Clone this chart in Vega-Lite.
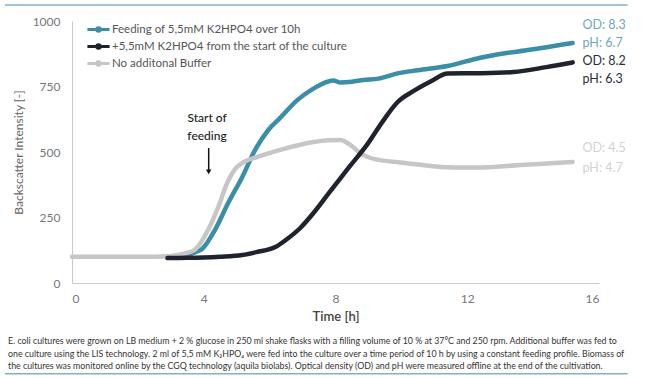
{
  "$schema": "https://vega.github.io/schema/vega-lite/v6.json",
  "width": 527,
  "height": 262,
  "autosize": {"type": "none"},
  "padding": {"left": 72, "top": 21, "right": 51, "bottom": 96},
  "background": "white",
  "config": {
    "view": {"stroke": null},
    "font": "Lato",
    "axis": {"labelFont": "Lato", "titleFont": "Lato"},
    "legend": {"labelFont": "Lato"}
  },
  "title": {
    "text": [
      "E. coli  cultures were grown on LB medium + 2 % glucose in 250 ml shake flasks with a filling volume of 10 % at 37°C and 250 rpm. Additional buffer was fed to",
      "one culture using the LIS technology. 2 ml of 5,5 mM K₂HPO₄ were fed into the culture over a time period of 10 h by using a constant feeding profile. Biomass of",
      "the cultures was monitored online by the CGQ technology (aquila biolabs). Optical density (OD) and pH were measured offline at the end of the cultivation."
    ],
    "orient": "bottom",
    "anchor": "start",
    "frame": "group",
    "dx": -64,
    "offset": -37,
    "fontSize": 8.8,
    "fontWeight": "normal",
    "font": "Lato",
    "color": "#333333",
    "lineHeight": 12.5
  },
  "resolve": {"scale": {"color": "independent"}},
  "datasets": {
    "curves": [
      {"series": "Feeding of 5,5mM K2HPO4 over 10h", "t": 3.0, "v": 100},
      {"series": "Feeding of 5,5mM K2HPO4 over 10h", "t": 3.5, "v": 108},
      {"series": "Feeding of 5,5mM K2HPO4 over 10h", "t": 3.75, "v": 118},
      {"series": "Feeding of 5,5mM K2HPO4 over 10h", "t": 3.95, "v": 130},
      {"series": "Feeding of 5,5mM K2HPO4 over 10h", "t": 4.35, "v": 205},
      {"series": "Feeding of 5,5mM K2HPO4 over 10h", "t": 4.74, "v": 305},
      {"series": "Feeding of 5,5mM K2HPO4 over 10h", "t": 5.17, "v": 405},
      {"series": "Feeding of 5,5mM K2HPO4 over 10h", "t": 5.56, "v": 508},
      {"series": "Feeding of 5,5mM K2HPO4 over 10h", "t": 5.96, "v": 584},
      {"series": "Feeding of 5,5mM K2HPO4 over 10h", "t": 6.32, "v": 630},
      {"series": "Feeding of 5,5mM K2HPO4 over 10h", "t": 6.84, "v": 698},
      {"series": "Feeding of 5,5mM K2HPO4 over 10h", "t": 7.33, "v": 742},
      {"series": "Feeding of 5,5mM K2HPO4 over 10h", "t": 7.93, "v": 773},
      {"series": "Feeding of 5,5mM K2HPO4 over 10h", "t": 8.15, "v": 765},
      {"series": "Feeding of 5,5mM K2HPO4 over 10h", "t": 8.5, "v": 768},
      {"series": "Feeding of 5,5mM K2HPO4 over 10h", "t": 8.85, "v": 775},
      {"series": "Feeding of 5,5mM K2HPO4 over 10h", "t": 9.3, "v": 780},
      {"series": "Feeding of 5,5mM K2HPO4 over 10h", "t": 9.88, "v": 800},
      {"series": "Feeding of 5,5mM K2HPO4 over 10h", "t": 10.5, "v": 812},
      {"series": "Feeding of 5,5mM K2HPO4 over 10h", "t": 11.4, "v": 828},
      {"series": "Feeding of 5,5mM K2HPO4 over 10h", "t": 12.4, "v": 860},
      {"series": "Feeding of 5,5mM K2HPO4 over 10h", "t": 13.1, "v": 876},
      {"series": "Feeding of 5,5mM K2HPO4 over 10h", "t": 13.9, "v": 890},
      {"series": "Feeding of 5,5mM K2HPO4 over 10h", "t": 14.5, "v": 902},
      {"series": "Feeding of 5,5mM K2HPO4 over 10h", "t": 15.2, "v": 916},
      {"series": "No additonal Buffer", "t": 0, "v": 100},
      {"series": "No additonal Buffer", "t": 1, "v": 100},
      {"series": "No additonal Buffer", "t": 2, "v": 100},
      {"series": "No additonal Buffer", "t": 2.5, "v": 100},
      {"series": "No additonal Buffer", "t": 3.0, "v": 103},
      {"series": "No additonal Buffer", "t": 3.4, "v": 112},
      {"series": "No additonal Buffer", "t": 3.74, "v": 128},
      {"series": "No additonal Buffer", "t": 4.13, "v": 202},
      {"series": "No additonal Buffer", "t": 4.44, "v": 290},
      {"series": "No additonal Buffer", "t": 4.74, "v": 390},
      {"series": "No additonal Buffer", "t": 4.95, "v": 435},
      {"series": "No additonal Buffer", "t": 5.17, "v": 458},
      {"series": "No additonal Buffer", "t": 5.65, "v": 482},
      {"series": "No additonal Buffer", "t": 6.38, "v": 510},
      {"series": "No additonal Buffer", "t": 7.33, "v": 538},
      {"series": "No additonal Buffer", "t": 7.8, "v": 545},
      {"series": "No additonal Buffer", "t": 8.15, "v": 546},
      {"series": "No additonal Buffer", "t": 8.45, "v": 527},
      {"series": "No additonal Buffer", "t": 8.75, "v": 496},
      {"series": "No additonal Buffer", "t": 9.0, "v": 480},
      {"series": "No additonal Buffer", "t": 9.36, "v": 469},
      {"series": "No additonal Buffer", "t": 9.97, "v": 460},
      {"series": "No additonal Buffer", "t": 10.5, "v": 452},
      {"series": "No additonal Buffer", "t": 11.58, "v": 441},
      {"series": "No additonal Buffer", "t": 12.5, "v": 441},
      {"series": "No additonal Buffer", "t": 13.6, "v": 450},
      {"series": "No additonal Buffer", "t": 14.4, "v": 456},
      {"series": "No additonal Buffer", "t": 15.2, "v": 462},
      {"series": "+5,5mM K2HPO4 from the start of the culture", "t": 2.9, "v": 95},
      {"series": "+5,5mM K2HPO4 from the start of the culture", "t": 3.5, "v": 96},
      {"series": "+5,5mM K2HPO4 from the start of the culture", "t": 4.0, "v": 97},
      {"series": "+5,5mM K2HPO4 from the start of the culture", "t": 4.5, "v": 100},
      {"series": "+5,5mM K2HPO4 from the start of the culture", "t": 5.17, "v": 107},
      {"series": "+5,5mM K2HPO4 from the start of the culture", "t": 5.6, "v": 118},
      {"series": "+5,5mM K2HPO4 from the start of the culture", "t": 6.17, "v": 137},
      {"series": "+5,5mM K2HPO4 from the start of the culture", "t": 6.5, "v": 165},
      {"series": "+5,5mM K2HPO4 from the start of the culture", "t": 6.93, "v": 210},
      {"series": "+5,5mM K2HPO4 from the start of the culture", "t": 7.35, "v": 270},
      {"series": "+5,5mM K2HPO4 from the start of the culture", "t": 7.75, "v": 335},
      {"series": "+5,5mM K2HPO4 from the start of the culture", "t": 8.1, "v": 392},
      {"series": "+5,5mM K2HPO4 from the start of the culture", "t": 8.4, "v": 440},
      {"series": "+5,5mM K2HPO4 from the start of the culture", "t": 8.97, "v": 530},
      {"series": "+5,5mM K2HPO4 from the start of the culture", "t": 9.45, "v": 620},
      {"series": "+5,5mM K2HPO4 from the start of the culture", "t": 9.88, "v": 690},
      {"series": "+5,5mM K2HPO4 from the start of the culture", "t": 10.4, "v": 735},
      {"series": "+5,5mM K2HPO4 from the start of the culture", "t": 10.9, "v": 770},
      {"series": "+5,5mM K2HPO4 from the start of the culture", "t": 11.4, "v": 800},
      {"series": "+5,5mM K2HPO4 from the start of the culture", "t": 12.4, "v": 801},
      {"series": "+5,5mM K2HPO4 from the start of the culture", "t": 13.4, "v": 805},
      {"series": "+5,5mM K2HPO4 from the start of the culture", "t": 14.4, "v": 824},
      {"series": "+5,5mM K2HPO4 from the start of the culture", "t": 15.2, "v": 842}
    ],
    "endLabels": [
      {"label": "OD: 8.3", "t": 15.5, "v": 985, "grp": "teal"},
      {"label": "pH: 6.7", "t": 15.5, "v": 916, "grp": "teal"},
      {"label": "OD: 8.2", "t": 15.5, "v": 847, "grp": "black"},
      {"label": "pH: 6.3", "t": 15.5, "v": 779, "grp": "black"},
      {"label": "OD: 4.5", "t": 15.5, "v": 515, "grp": "gray"},
      {"label": "pH: 4.7", "t": 15.5, "v": 439, "grp": "gray"}
    ],
    "annot": [
      {"label": "Start of", "t": 4.1, "v": 630},
      {"label": "feeding", "t": 4.1, "v": 560}
    ]
  },
  "layer": [
    {
      "data": {"values": [{}]},
      "mark": {"type": "rule", "color": "#7fb3c4", "strokeWidth": 1.5, "clip": false},
      "encoding": {
        "x": {"datum": -2.04, "type": "quantitative"},
        "x2": {"datum": 16.87},
        "y": {"datum": 1061, "type": "quantitative"}
      }
    },
    {
      "data": {"values": [{}]},
      "mark": {"type": "rule", "color": "#7fb3c4", "strokeWidth": 1.5, "clip": false},
      "encoding": {
        "x": {"datum": -2.04, "type": "quantitative"},
        "x2": {"datum": 16.87},
        "y": {"datum": -346, "type": "quantitative"}
      }
    },
    {
      "data": {"name": "curves"},
      "mark": {"type": "line", "interpolate": "monotone", "strokeWidth": 4.5, "strokeCap": "round", "strokeJoin": "round"},
      "encoding": {
        "x": {
          "field": "t", "type": "quantitative",
          "scale": {"domain": [0, 16], "nice": false, "zero": false},
          "axis": {
            "values": [0, 4, 8, 12, 16], "grid": false, "ticks": false,
            "domainColor": "#c8c8c8", "labelColor": "#777777", "labelFontSize": 12,
            "labelPadding": 10, "title": "Time [h]", "titleFontSize": 13,
            "titleFontWeight": 600, "titleColor": "#444444", "titlePadding": 6
          }
        },
        "y": {
          "field": "v", "type": "quantitative",
          "scale": {"domain": [0, 1000], "nice": false},
          "axis": {
            "values": [0, 250, 500, 750, 1000], "format": "d", "grid": false, "ticks": false,
            "domainColor": "#c8c8c8", "labelColor": "#777777", "labelFontSize": 12,
            "labelPadding": 12, "title": "Backscatter Intensity [-]", "titleFontSize": 12,
            "titleFontWeight": "normal", "titleColor": "#666666", "titlePadding": 7
          }
        },
        "color": {
          "field": "series", "type": "nominal",
          "scale": {
            "domain": ["Feeding of 5,5mM K2HPO4 over 10h", "+5,5mM K2HPO4 from the start of the culture", "No additonal Buffer"],
            "range": ["#3a8ea6", "#1f232e", "#c6c6c6"]
          },
          "legend": {
            "title": null, "orient": "none", "legendX": 18, "legendY": 0,
            "symbolType": "M-1.7,0H1.7M-0.27,0a0.27,0.27 0 1,0 0.54,0a0.27,0.27 0 1,0 -0.54,0",
            "symbolSize": 170, "symbolStrokeWidth": 3, "labelFontSize": 11.5,
            "labelColor": "#555555", "rowPadding": 0, "labelOffset": 5, "labelLimit": 400
          }
        }
      }
    },
    {
      "data": {"name": "endLabels"},
      "mark": {"type": "text", "align": "left", "baseline": "middle", "fontSize": 12.5, "font": "Lato"},
      "encoding": {
        "x": {"field": "t", "type": "quantitative"},
        "y": {"field": "v", "type": "quantitative"},
        "text": {"field": "label"},
        "color": {
          "field": "grp", "type": "nominal",
          "scale": {"domain": ["teal", "black", "gray"], "range": ["#6fa6ba", "#2a2e38", "#d2d2d2"]},
          "legend": null
        }
      }
    },
    {
      "data": {"name": "annot"},
      "mark": {"type": "text", "align": "center", "baseline": "middle", "fontSize": 12, "font": "Lato", "fontWeight": 500, "color": "#222222"},
      "encoding": {
        "x": {"field": "t", "type": "quantitative"},
        "y": {"field": "v", "type": "quantitative"},
        "text": {"field": "label"}
      }
    },
    {
      "data": {"values": [{}]},
      "mark": {"type": "rule", "color": "#111111", "strokeWidth": 1.5},
      "encoding": {
        "x": {"datum": 4.15, "type": "quantitative"},
        "y": {"datum": 515, "type": "quantitative"},
        "y2": {"datum": 430}
      }
    },
    {
      "data": {"values": [{}]},
      "mark": {"type": "point", "shape": "triangle-down", "filled": true, "color": "#111111", "size": 30, "opacity": 1},
      "encoding": {
        "x": {"datum": 4.15, "type": "quantitative"},
        "y": {"datum": 424, "type": "quantitative"}
      }
    }
  ]
}
